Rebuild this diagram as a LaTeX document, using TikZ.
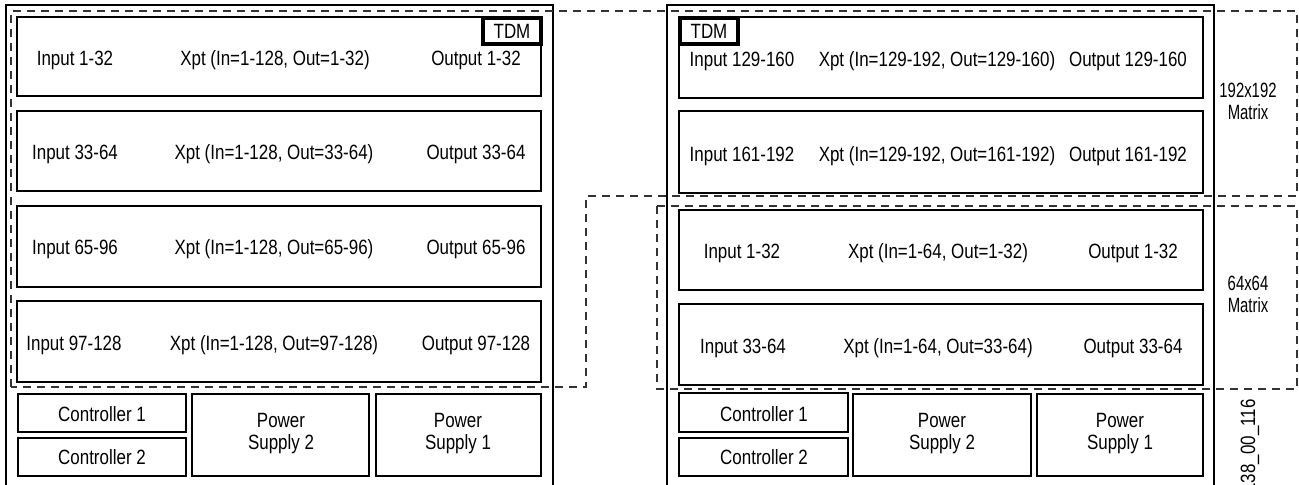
\documentclass[tikz,border=0pt]{standalone}
\usepackage{fontspec}
\setmainfont{Liberation Sans}[FakeStretch=0.82]
\newfontfamily\sidefont{Liberation Sans}[FakeStretch=0.72]
\usetikzlibrary{fit}
\begin{document}
\begin{tikzpicture}[x=0.75pt,y=-0.75pt,
  box/.style={draw=black, line width=1.2pt, inner sep=0pt},
  tdmbox/.style={draw=black, line width=2.6pt, inner sep=0pt},
  chassis/.style={draw=black, line width=1.4pt},
  dsh/.style={draw=black!80, line width=1pt, dash pattern=on 6pt off 4.5pt},
  lbl/.style={font=\fontsize{15.5}{16.5}\selectfont, inner sep=0pt, anchor=base},
  mlbl/.style={font=\fontsize{15.5}{16.5}\selectfont, inner sep=0pt, align=center},
  slbl/.style={font=\sidefont\fontsize{15.5}{16.5}\selectfont, inner sep=0pt, align=center},
]
\clip (0,0) rectangle (1299,485);
\fill[white] (0,0) rectangle (1299,485);

% chassis outlines
\draw[chassis] (6,495) -- (6,5) -- (553,5) -- (553,495);
\draw[chassis] (667,495) -- (667,5) -- (1214,5) -- (1214,495);

% left chassis boxes
\node[box, fit={(17,17) (541,96)}] (L1) {};
\node[box, fit={(17,111) (541,191)}] (L2) {};
\node[box, fit={(17,206) (541,287)}] (L3) {};
\node[box, fit={(17,301) (541,382)}] (L4) {};
\node[box, fit={(18,394) (186,432)}] (LC1) {};
\node[box, fit={(18,438) (186,476)}] (LC2) {};
\node[box, fit={(192,394) (369,476)}] (LPS2) {};
\node[box, fit={(376,394) (541,476)}] (LPS1) {};
\node[tdmbox, fit={(483,18) (541,44)}] (LTDM) {};
\node[mlbl] (LTDMt) at (LTDM.center) {TDM};

% right chassis boxes
\node[box, fit={(679,17) (1203,98)}] (R1) {};
\node[box, fit={(679,111) (1203,193)}] (R2) {};
\node[box, fit={(679,210) (1203,290)}] (R3) {};
\node[box, fit={(679,304) (1203,385)}] (R4) {};
\node[box, fit={(679,393) (848,432)}] (RC1) {};
\node[box, fit={(679,438) (848,476)}] (RC2) {};
\node[box, fit={(853,394) (1031,476)}] (RPS2) {};
\node[box, fit={(1037,394) (1203,476)}] (RPS1) {};
\node[tdmbox, fit={(680,18) (738,44)}] (RTDM) {};
\node[mlbl] (RTDMt) at (RTDM.center) {TDM};

% dashed matrix outlines
\draw[dsh] (11,387) -- (11,11) -- (1297,11) -- (1297,196) -- (586,196) -- (586,387) -- cycle;
\draw[dsh] (657,206) rectangle (1297,389);

% left row texts
\node[lbl] (L1a) at (75,66) {Input 1-32};
\node[lbl] (L1b) at (275,66) {Xpt (In=1-128, Out=1-32)};
\node[lbl] (L1c) at (476,66) {Output 1-32};
\node[lbl] (L2a) at (75,159) {Input 33-64};
\node[lbl] (L2b) at (274,159) {Xpt (In=1-128, Out=33-64)};
\node[lbl] (L2c) at (476,159) {Output 33-64};
\node[lbl] (L3a) at (75,254) {Input 65-96};
\node[lbl] (L3b) at (274,254) {Xpt (In=1-128, Out=65-96)};
\node[lbl] (L3c) at (476,254) {Output 65-96};
\node[lbl] (L4a) at (74,350) {Input 97-128};
\node[lbl] (L4b) at (274,350) {Xpt (In=1-128, Out=97-128)};
\node[lbl] (L4c) at (476,350) {Output 97-128};

\node[lbl] (LC1t) at (102,421) {Controller 1};
\node[lbl] (LC2t) at (102,464) {Controller 2};
\node[mlbl] (LPS2t) at (281,434) {Power\\Supply 2};
\node[mlbl] (LPS1t) at (458,434) {Power\\Supply 1};

% right row texts
\node[lbl] (R1a) at (742,67) {Input 129-160};
\node[lbl] (R1b) at (937,67) {Xpt (In=129-192, Out=129-160)};
\node[lbl] (R1c) at (1128,67) {Output 129-160};
\node[lbl] (R2a) at (742,161) {Input 161-192};
\node[lbl] (R2b) at (937,161) {Xpt (In=129-192, Out=161-192)};
\node[lbl] (R2c) at (1128,161) {Output 161-192};
\node[lbl] (R3a) at (742,258) {Input 1-32};
\node[lbl] (R3b) at (938,258) {Xpt (In=1-64, Out=1-32)};
\node[lbl] (R3c) at (1133,258) {Output 1-32};
\node[lbl] (R4a) at (743,353) {Input 33-64};
\node[lbl] (R4b) at (938,353) {Xpt (In=1-64, Out=33-64)};
\node[lbl] (R4c) at (1133,353) {Output 33-64};

\node[lbl] (RC1t) at (764,421) {Controller 1};
\node[lbl] (RC2t) at (764,464) {Controller 2};
\node[mlbl] (RPS2t) at (942,434) {Power\\Supply 2};
\node[mlbl] (RPS1t) at (1120,434) {Power\\Supply 1};

% side labels
\node[slbl] (M192) at (1248,101) {192x192\\Matrix};
\node[slbl] (M64) at (1248,294) {64x64\\Matrix};
\node[mlbl, rotate=90] (fig) at (1250,446) {138\_00\_116};
\end{tikzpicture}
\end{document}
